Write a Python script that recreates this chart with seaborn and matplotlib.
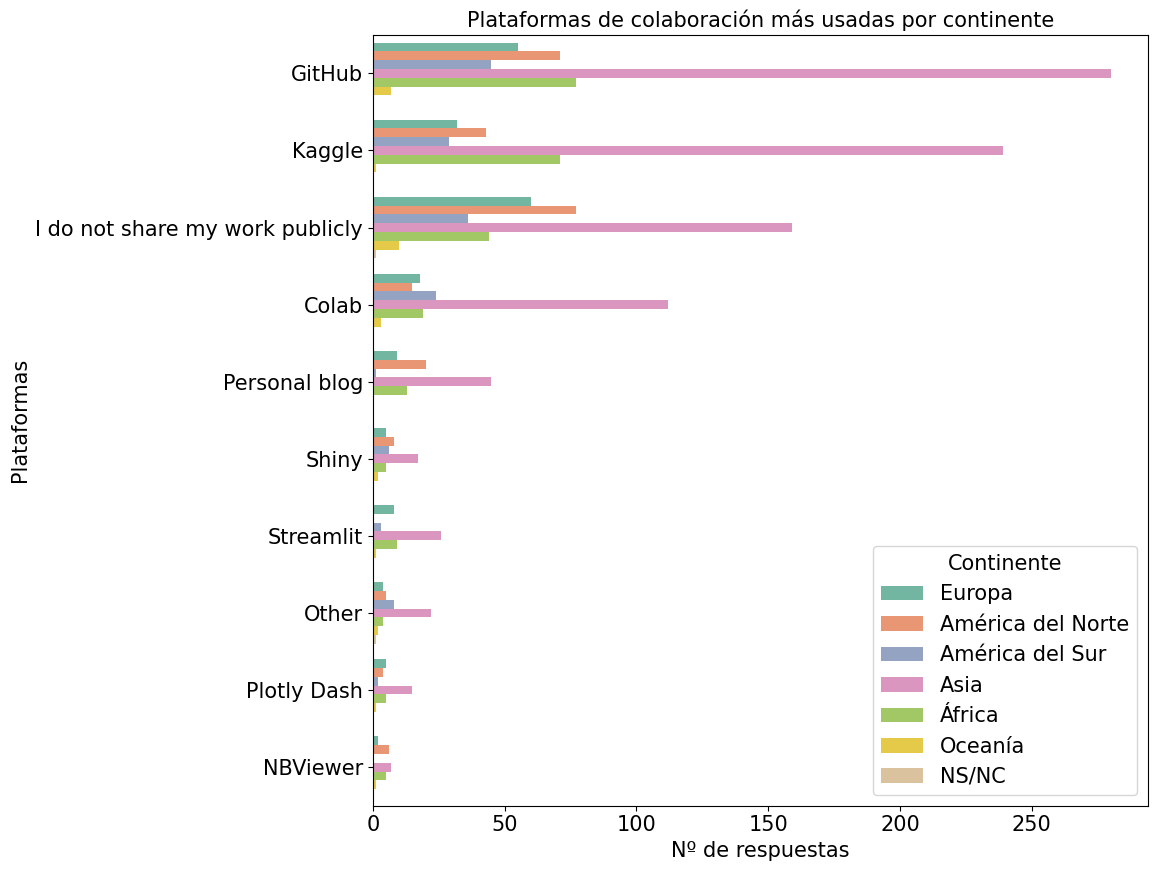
import pandas as pd
import seaborn as sns
import matplotlib.pyplot as plt

plataformas = ["GitHub", "Kaggle", "I do not share my work publicly", "Colab",
               "Personal blog", "Shiny", "Streamlit", "Other", "Plotly Dash", "NBViewer"]
continentes = ["Europa", "América del Norte", "América del Sur", "Asia",
               "África", "Oceanía", "NS/NC"]

# respuestas por continente, en el orden de plataformas
europa = [55, 32, 60, 18, 9, 5, 8, 4, 5, 2]
america_norte = [71, 43, 77, 15, 20, 8, 0, 5, 4, 6]
america_sur = [45, 29, 36, 24, 1, 6, 3, 8, 2, 0]
asia = [280, 239, 159, 112, 45, 17, 26, 22, 15, 7]
africa = [77, 71, 44, 19, 13, 5, 9, 4, 5, 5]
oceania = [7, 1, 10, 3, 0, 2, 1, 2, 1, 1]
nsnc = [0, 0, 1, 0, 0, 0, 0, 1, 0, 0]

series = [europa, america_norte, america_sur, asia, africa, oceania, nsnc]

rows = []
for cont, vals in zip(continentes, series):
    for plat, v in zip(plataformas, vals):
        rows.append({"Plataforma": plat, "Continente": cont, "Respuestas": v})
df = pd.DataFrame(rows)

plt.rcParams["font.size"] = 15

fig, ax = plt.subplots(figsize=(11.58, 8.71), dpi=100)
sns.barplot(data=df, y="Plataforma", x="Respuestas", hue="Continente",
            order=plataformas, hue_order=continentes, palette="Set2",
            orient="h", ax=ax)

ax.set_title("Plataformas de colaboración más usadas por continente", fontsize=15)
ax.set_xlabel("Nº de respuestas", fontsize=15)
ax.set_ylabel("Plataformas", fontsize=15)
ax.tick_params(labelsize=15)
ax.legend(title="Continente", loc="lower right", fontsize=15, title_fontsize=15)

plt.subplots_adjust(left=0.322, right=0.991, top=0.96, bottom=0.075)
plt.savefig("out.png", dpi=100)
